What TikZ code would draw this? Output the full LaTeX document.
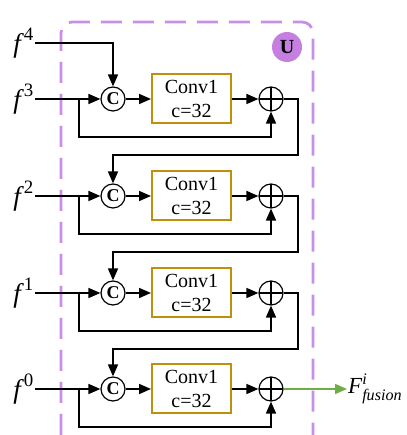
\documentclass[tikz,border=0pt]{standalone}
\usepackage{amsmath}
\usepackage{fontspec}
\setmainfont{Liberation Serif}
\usetikzlibrary{arrows.meta}
\definecolor{boxgold}{HTML}{C0900A}
\definecolor{unetpurple}{HTML}{C98FE8}
\definecolor{upurple}{HTML}{C47FE0}
\definecolor{fusegreen}{HTML}{70AD47}
\tikzset{
	arr/.style={line width=1.6pt, -{Triangle[length=12pt,width=10pt]}},
	catnode/.style={circle, draw, line width=1.2pt, minimum size=24pt, inner sep=0pt, font=\fontsize{18}{18}\selectfont\bfseries},
	convbox/.style={draw=boxgold, line width=2pt, minimum width=79pt, minimum height=49pt, inner sep=0pt, align=center, font=\fontsize{20}{24}\selectfont},
	addnode/.style={circle, draw, line width=1.2pt, minimum size=24pt, inner sep=0pt,
		path picture={\draw[line width=2pt] (path picture bounding box.north) -- (path picture bounding box.south) (path picture bounding box.west) -- (path picture bounding box.east);}},
	flabel/.style={anchor=east, inner sep=1pt, font=\fontsize{27}{27}\selectfont}
}
\begin{document}
\begin{tikzpicture}[x=1pt, y=1pt]
		%%%%% START %%%%%
		\useasboundingbox (0, 0) rectangle (406, 435);
		
		% dashed block
		\draw[unetpurple, line width=2.8pt, dash pattern=on 21pt off 11pt, rounded corners=11pt] (61, 0) -- (61, 413) -- (313, 413) -- (313, 0);
		\node[circle, fill=upurple, minimum size=30pt, inner sep=0pt, font=\fontsize{20}{20}\selectfont\bfseries] (ubadge) at (287, 388) {U};
		
		% rows
		\foreach \i/\y in {3/336, 2/239, 1/142, 0/46} {
			\node[flabel] (f\i) at (35, \y) {$\textit{f}^{\,\text{\i}}$};
			\coordinate (br\i) at (79, \y);
			\node[catnode] (cat\i) at (113, \y) {C};
			\node[convbox] (conv\i) at (191.5, \y) {Conv1\\c=32};
			\node[addnode] (add\i) at (271, \y) {};
			\coordinate (ret\i) at (298, \y - 56);
			
			\draw[arr] (f\i.east) -- (cat\i.west);
			\draw[arr] (cat\i) -- (conv\i);
			\draw[arr] (conv\i) -- (add\i);
			\draw[arr] (br\i) -- ++(0, -38) -| (add\i.south);
		}
		
		\node[flabel] (f4) at (35, 392) {$\textit{f}^{\,\text{4}}$};
		\draw[arr] (f4.east) -| (cat3.north);
		
		\foreach \i/\j in {3/2, 2/1, 1/0}
			\draw[arr] (add\i.east) -| (ret\i) -| (cat\j.north);
		
		\node[anchor=west, inner sep=1pt, font=\fontsize{23}{23}\selectfont] (fusion) at (347, 46) {$\textit{F}^{\textit{i}}_{\textit{fusion}}$};
		\draw[arr, fusegreen] (add0.east) -- (fusion.west);
		%%%%% END %%%%%
\end{tikzpicture}
\end{document}
